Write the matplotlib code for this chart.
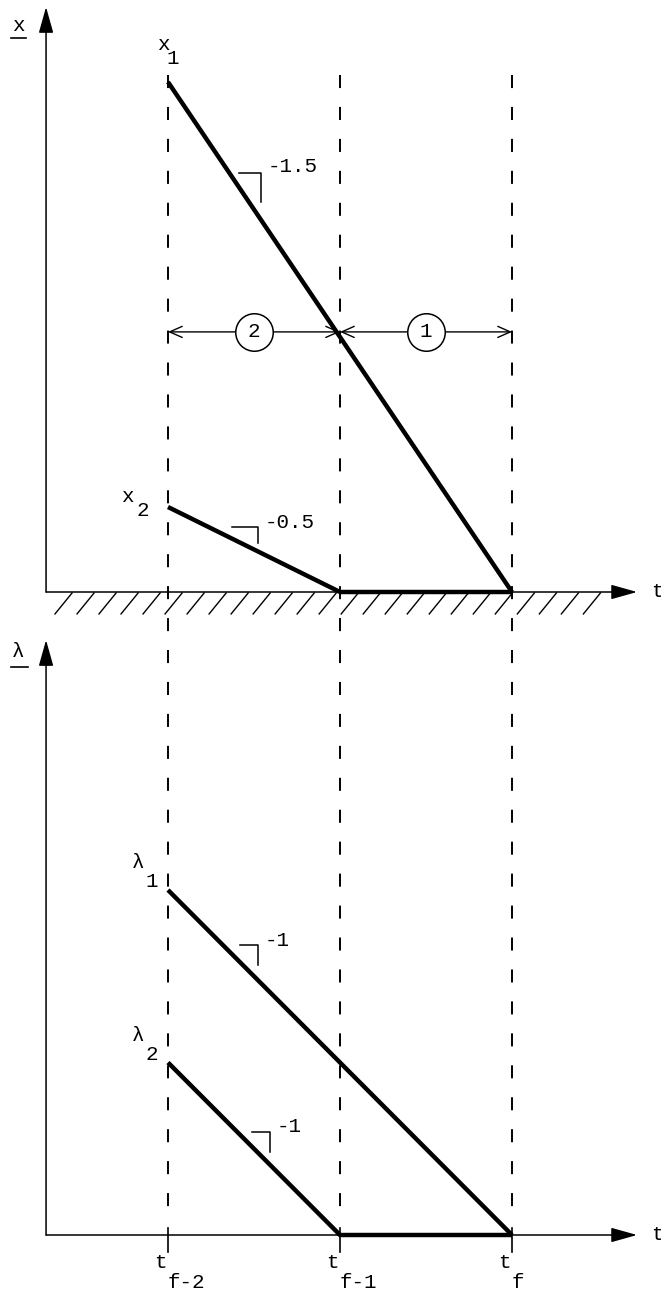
import matplotlib
matplotlib.use('Agg')
import matplotlib.pyplot as plt
import numpy as np
from matplotlib.transforms import blended_transform_factory

plt.rcParams['font.family'] = ['Liberation Mono', 'DejaVu Sans Mono']
plt.rcParams['lines.scale_dashes'] = False

# stage boundaries t_{f-2}, t_{f-1}, t_f
t_stage = [0, 1, 2]
t_subs = ['f-2', 'f-1', 'f']
stage_names = ['2', '1']

# state trajectories
x1_t, x1_v = [0, 2], [3.0, 0.0]
x2_t, x2_v = [0, 1, 2], [0.5, 0.0, 0.0]
# costate trajectories
lam1_t, lam1_v = [0, 2], [2.0, 0.0]
lam2_t, lam2_v = [0, 1, 2], [1.0, 0.0, 0.0]

slope_text_top = ['-1.5', '-0.5']
slope_text_bot = ['-1', '-1']

W, H = 661, 1293
fig = plt.figure(figsize=(W / 100, H / 100), dpi=100)
fig.patch.set_facecolor('white')

split = 616  # px row where the two panels meet
ax1 = fig.add_axes([0, 1 - split / H, 1, split / H])
ax2 = fig.add_axes([0, 0, 1, 1 - split / H])
for ax in (ax1, ax2):
    ax.axis('off')
    ax.set_xlim(-168 / 172, (W - 168) / 172)
ax1.set_ylim(-(split - 592) / 170, 592 / 170)
ax2.set_ylim(-(H - 1235) / 172.5, (1235 - split) / 172.5)

AX_X = -0.709
thick = dict(color='black', lw=3.2, solid_capstyle='butt', solid_joinstyle='miter', zorder=4)
txt = dict(fontsize=15, color='black')


def axis_arrows(ax, ytip):
    head = dict(arrowstyle='-|>,head_length=1.6,head_width=0.45', lw=1.1,
                color='black', mutation_scale=10, shrinkA=0, shrinkB=0)
    ax.annotate('', xy=(AX_X, ytip), xytext=(AX_X, 0), arrowprops=head)
    ax.annotate('', xy=(2.727, 0), xytext=(AX_X, 0), arrowprops=head)
    ax.text(2.843, 0, 't', ha='center', va='center', **txt)


def slope_mark(ax, t0, t1, y0, y1, label, tx, ty):
    ax.plot([t0, t1, t1], [y0, y0, y1], color='black', lw=1.1)
    ax.text(tx, ty, label, ha='left', va='center', **txt)


# ---- top panel: x ----
axis_arrows(ax1, 3.441)
ax1.text(-0.872, 3.335, 'x', ha='center', va='center', **txt)
ax1.plot([-0.913, -0.826], [3.259, 3.259], color='black', lw=1.2)

# hatching under the t axis
for xb in np.arange(-0.657, 2.47, 0.128):
    ax1.plot([xb, xb + 0.099], [-0.129, -0.006], color='black', lw=1.0)

ax1.plot(x1_t, x1_v, **thick)
ax1.plot(x2_t, x2_v, **thick)
ax1.text(-0.03, 3.22, 'x', ha='center', va='center', **txt)
ax1.text(0.03, 3.14, '1', ha='center', va='center', **txt)
ax1.text(-0.235, 0.56, 'x', ha='center', va='center', **txt)
ax1.text(-0.145, 0.48, '2', ha='center', va='center', **txt)

slope_mark(ax1, 0.413, 0.541, 2.465, 2.294, slope_text_top[0], 0.581, 2.50)
slope_mark(ax1, 0.372, 0.523, 0.382, 0.288, slope_text_top[1], 0.564, 0.406)

# stage spans
y_dim = 1.53
dim = dict(arrowstyle='<->,head_length=0.45,head_width=0.2', lw=1.0, color='black',
           mutation_scale=20, shrinkA=0, shrinkB=0)
for i, name in enumerate(stage_names):
    ax1.annotate('', xy=(t_stage[i], y_dim), xytext=(t_stage[i + 1], y_dim), arrowprops=dim)
    xc = (t_stage[i] + t_stage[i + 1]) / 2
    ax1.plot(xc, y_dim, 'o', ms=27, mfc='white', mec='black', mew=1.1, zorder=5)
    ax1.text(xc, y_dim, name, ha='center', va='center', zorder=6, **txt)

# ---- bottom panel: lambda ----
axis_arrows(ax2, 3.449)
ax2.text(-0.872, 3.38, 'λ', ha='center', va='center', **txt)
ax2.plot([-0.913, -0.814], [3.293, 3.293], color='black', lw=1.2)

ax2.plot(lam1_t, lam1_v, **thick)
ax2.plot(lam2_t, lam2_v, **thick)
ax2.text(-0.174, 2.157, 'λ', ha='center', va='center', **txt)
ax2.text(-0.093, 2.047, '1', ha='center', va='center', **txt)
ax2.text(-0.174, 1.157, 'λ', ha='center', va='center', **txt)
ax2.text(-0.093, 1.047, '2', ha='center', va='center', **txt)

slope_mark(ax2, 0.419, 0.523, 1.681, 1.565, slope_text_bot[0], 0.564, 1.71)
slope_mark(ax2, 0.488, 0.593, 0.60, 0.484, slope_text_bot[1], 0.634, 0.63)

# stage boundary lines running through both panels
tr = blended_transform_factory(ax1.transData, fig.transFigure)
for ts in t_stage:
    ln, = ax1.plot([ts, ts], [1 - 75 / H, 1 - 1222 / H], transform=tr, color='black',
                   lw=1.4, clip_on=False)
    ln.set_dashes((9.4, 13.6))
    ax2.plot([ts, ts], [0.041, -0.099], color='black', lw=1.2)

for ts, sub in zip(t_stage, t_subs):
    ax2.text(ts - 0.01, -0.157, 't', ha='right', va='center', **txt)
    ax2.text(ts, -0.278, sub, ha='left', va='center', **txt)

fig.savefig('out.png', dpi=100, facecolor='white')
